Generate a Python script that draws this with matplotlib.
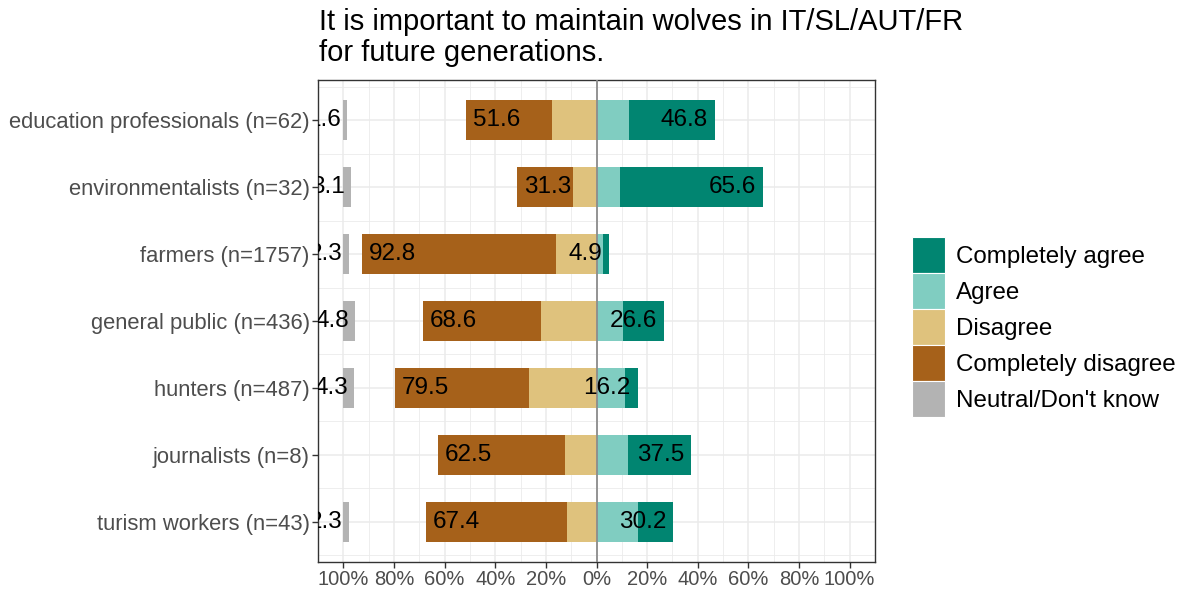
import numpy as np
import matplotlib.pyplot as plt
from matplotlib.patches import Patch

plt.rcParams['font.family'] = ['Liberation Sans', 'DejaVu Sans']

groups = ["education professionals (n=62)", "environmentalists (n=32)", "farmers (n=1757)",
          "general public (n=436)", "hunters (n=487)", "journalists (n=8)", "turism workers (n=43)"]
completely_disagree = [33.9, 21.9, 76.7, 46.6, 53.0, 50.0, 55.8]
disagree = [17.7, 9.4, 16.1, 22.0, 26.5, 12.5, 11.6]
agree = [12.9, 9.4, 2.4, 10.3, 11.1, 12.5, 16.3]
completely_agree = [33.9, 56.2, 2.5, 16.3, 5.1, 25.0, 13.9]
neutral = [1.6, 3.1, 2.3, 4.8, 4.3, 0.0, 2.3]

title = "It is important to maintain wolves in IT/SL/AUT/FR\nfor future generations."
col_ca = '#018571'
col_a = '#80CDC1'
col_d = '#DFC27D'
col_cd = '#A6611A'
col_n = '#B3B3B3'

fig = plt.figure(figsize=(11.94, 5.93), dpi=100)
ax = fig.add_axes([318 / 1194, 1 - 562 / 593, (875 - 318) / 1194, (562 - 80) / 593])

y = np.arange(len(groups))
h = 0.6
cd = np.array(completely_disagree)
d = np.array(disagree)
a = np.array(agree)
ca = np.array(completely_agree)
n = np.array(neutral)

ax.barh(y, -d, h, color=col_d, zorder=3)
ax.barh(y, -cd, h, left=-d, color=col_cd, zorder=3)
ax.barh(y, a, h, color=col_a, zorder=3)
ax.barh(y, ca, h, left=a, color=col_ca, zorder=3)
ax.barh(y, n, h, left=-100, color=col_n, zorder=3)

ax.axvline(0, color='#8c8c8c', lw=1.3, zorder=4)

lab_fs = 17.5
for i in range(len(groups)):
    neg = cd[i] + d[i]
    pos = a[i] + ca[i]
    ax.annotate(f"{neg:.1f}", (-neg, y[i]), xytext=(5, 0), textcoords='offset points',
                ha='left', va='center', fontsize=lab_fs, zorder=5, annotation_clip=False)
    ax.annotate(f"{pos:.1f}", (pos, y[i]), xytext=(-5, 0), textcoords='offset points',
                ha='right', va='center', fontsize=lab_fs, zorder=5, annotation_clip=False)
    if n[i] > 0:
        t = ax.annotate(f"{n[i]:.1f}", (-100 + n[i], y[i]), xytext=(-4.5, 0), textcoords='offset points',
                        ha='right', va='center', fontsize=lab_fs, zorder=5, annotation_clip=False)
        t.set_clip_box(ax.bbox)
        t.set_clip_on(True)

ax.set_xlim(-110, 110)
ax.set_ylim(len(groups) - 0.4, -0.6)
ticks = np.arange(-100, 101, 20)
ax.set_xticks(ticks)
ax.set_xticklabels([f"{abs(t)}%" for t in ticks])
ax.set_xticks(np.arange(-110, 111, 20), minor=True)
ax.set_yticks(y)
ax.set_yticklabels(groups)
ax.set_yticks(np.arange(-0.5, len(groups), 1), minor=True)

ax.grid(which='major', color='#EBEBEB', lw=1.1, zorder=0)
ax.grid(which='minor', color='#EBEBEB', lw=0.6, zorder=0)
ax.tick_params(which='minor', length=0)
ax.tick_params(which='major', length=4, color='#333333', width=1.0, labelcolor='#4D4D4D', pad=2)
ax.tick_params(axis='y', labelsize=15.8)
ax.tick_params(axis='x', labelsize=14.5)
for s in ax.spines.values():
    s.set_color('#333333')
    s.set_linewidth(1.0)

fig.text(319 / 1194, 1 - 8 / 593, title, ha='left', va='top', fontsize=21, linespacing=1.15)

handles = [Patch(facecolor=c, edgecolor='white', lw=0.8) for c in [col_ca, col_a, col_d, col_cd, col_n]]
labels = ["Completely agree", "Agree", "Disagree", "Completely disagree", "Neutral/Don't know"]
fig.legend(handles, labels, loc='center left', bbox_to_anchor=(900 / 1194, 1 - 327 / 593),
           frameon=False, fontsize=17.4, handlelength=1.35, handleheight=1.92,
           labelspacing=0.0, handletextpad=0.45, borderpad=0)

fig.savefig('out.png', dpi=100)
